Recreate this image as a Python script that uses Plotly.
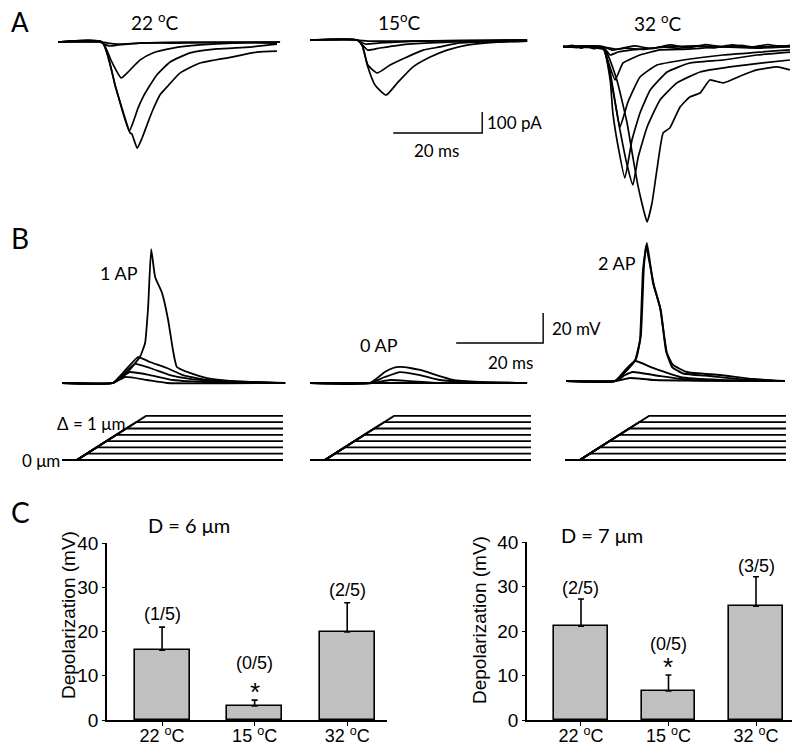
import plotly.graph_objects as go

# Page is 800x746; the html body adds an 8px margin, so the figure is offset
OFF = 8
W, H = 800 - OFF, 746 - OFF

# ======================= DATA =======================
# Panel A: evoked currents (time in ms, current in pA), one list per sweep
A22_TIME_MS = [
    [0, 9.9, 11.2, 13.5, 18.4, 30, 49.9],
    [0, 9.4, 10.3, 11.7, 13.5, 18.4, 25.8, 49.9],
    [0, 9.9, 12.1, 14.2, 15.5, 18.4, 21.3, 25.8, 31.9, 39.3, 49.2],
    [0, 9.9, 13.0, 16.0, 16.9, 18.0, 19.1, 20.7, 22.2, 25.2, 29.7, 35.7, 43.1, 49.2],
    [0, 9.9, 13.0, 16.2, 16.6, 17.8, 18.9, 20.0, 21.3, 22.9, 24.5, 27.4, 31.9, 39.3, 44.7, 49.2],
]
A22_CURRENT_PA = [
    [0, 0, -5, -10, -5, 0, 0],
    [0, 0, -10, -19, -14, -5, -5, 0],
    [0, 0, -95, -171, -148, -86, -52, -29, -14, -5, -5],
    [0, 0, -219, -424, -381, -314, -262, -205, -157, -95, -52, -33, -24, -10],
    [0, 0, -219, -433, -438, -505, -457, -395, -324, -252, -214, -148, -100, -71, -48, -43],
]
A15_TIME_MS = [
    [0, 10.6, 13.0, 20.0, 48.8],
    [0, 10.6, 12.4, 15.7, 24.7, 48.8],
    [0, 10.6, 13.0, 15.7, 20.2, 27.0, 38.2, 48.8],
    [0, 10.6, 11.7, 13.0, 15.1, 18.0, 21.8, 25.4, 29.2, 33.7, 48.8],
    [0, 10.6, 11.7, 13.0, 14.6, 17.1, 19.6, 23.1, 27.0, 30.8, 35.3, 42.0, 48.8],
]
A15_CURRENT_PA = [
    [0, 0, -5, -5, 0],
    [0, 0, -19, -14, -5, 0],
    [0, 0, -48, -38, -24, -14, -5, 0],
    [0, 0, -24, -119, -157, -119, -81, -48, -33, -14, -5],
    [0, 0, -24, -129, -214, -262, -205, -129, -81, -48, -24, -10, -5],
]
A32_TIME_MS = [
    [0, 2, 4, 6, 8, 9, 12, 16, 20, 24, 28, 32, 36, 40, 44, 48, 51],
    [0, 3, 5, 7, 9, 11, 14, 18, 22, 26, 30, 34, 38, 42, 46, 49, 51],
    [0, 9.0, 10.6, 12.4, 15.5, 20, 30, 40, 51],
    [0, 9.0, 10.0, 11.7, 13.5, 17.3, 21.8, 28, 36, 44, 51],
    [0, 9.0, 10.6, 11.7, 12.8, 14.6, 17.3, 21.1, 27.0, 36.0, 51.0],
    [0, 9.0, 10.6, 11.2, 12.4, 13.9, 15.5, 17.3, 19.6, 23.4, 28.5, 36.0, 43.6, 51.0],
    [0, 9.0, 11.2, 12.8, 14.4, 15.7, 16.9, 18.9, 21.8, 25.6, 30.8, 37.5, 44.9, 51.0],
    [0, 9.4, 12.1, 14.4, 15.7, 16.9, 18.9, 20.0, 21.1, 22.5, 24.0, 26.3, 28.5, 30.8, 33.0,
     36.0, 40.4, 43.6, 48.1, 51.0],
]
A32_CURRENT_PA = [
    [0, 8, -5, 6, -3, 0, -10, 5, -8, 10, -3, 12, 0, 8, -5, 6, 3],
    [5, -3, 6, -8, 2, -15, -5, -12, 0, -6, 4, -4, 10, -2, 12, 2, 8],
    [0, 0, -38, -24, -14, -5, 5, 0, 5],
    [0, 0, -60, -157, -76, -38, -14, -10, 0, -5, 0],
    [0, 0, -120, -260, -381, -262, -143, -86, -62, -38, -14],
    [0, -5, -157, -314, -476, -624, -443, -314, -205, -119, -76, -62, -38, -24],
    [0, -5, -205, -395, -562, -657, -524, -381, -252, -171, -119, -95, -76, -62],
    [0, -14, -157, -362, -524, -666, -833, -743, -585, -409, -386, -286, -238, -219, -157,
     -171, -133, -109, -95, -109],
]

# Panel B: membrane potential (time in ms, depolarization in mV)
B22_TIME_MS = [
    [0, 11.7, 14.9, 17.9, 19.1, 19.8, 20.5, 21.4, 23.0, 24.4, 25.5, 26.4, 29.4, 33.3, 39.3, 51.3],
    [0, 11.7, 14.0, 17.5, 20.2, 24.1, 27.8, 33.3, 51.3],
    [0, 11.7, 14.0, 16.8, 20.2, 24.8, 29.4, 40.0, 51.3],
    [0, 11.7, 14.0, 15.6, 20.2, 25.5, 35.0, 51.3],
    [0, 11.7, 14.5, 19.5, 24.1, 51.3],
]
B22_VOLT_MV = [
    [0, 0, 6.7, 17.3, 26.7, 50.7, 89.3, 70.7, 60.0, 42.0, 22.0, 10.7, 6.7, 3.3, 1.3, 0],
    [0, 0, 6.7, 17.3, 14.0, 10.0, 5.3, 2.0, 0],
    [0, 0, 5.5, 12.7, 10.0, 5.3, 2.7, 0.7, 0],
    [0, 0, 4.5, 7.3, 5.3, 2.0, 0.5, 0],
    [0, 0, 4.0, 2.0, 0, 0],
]
B15_TIME_MS = [
    [0, 13.8, 17.2, 19.1, 20.7, 23.0, 25.3, 32.9, 39.1, 49.9],
    [0, 13.8, 17.2, 20.7, 25.3, 29.9, 36.8, 49.9],
    [0, 14.3, 18.4, 23.0, 29.9, 49.9],
    [0, 49.9],
]
B15_VOLT_MV = [
    [0, 0, 7.3, 10.0, 10.7, 10.0, 8.7, 2.0, 0.7, 0],
    [0, 0, 4.0, 7.3, 5.3, 2.0, 0.7, 0],
    [0, 0, 2.0, 1.3, 0, 0],
    [0, 0],
]
B32_TIME_MS = [
    [0, 11.3, 13.6, 15.9, 17.0, 17.7, 18.6, 20.0, 21.6, 23.2, 24.6, 27.8, 35.4, 43.0, 50.3],
    [0, 11.3, 13.8, 16.1, 17.2, 17.9, 18.4, 20.2, 21.8, 23.0, 24.4, 27.0, 33.0, 42.0, 50.3],
    [0, 11.3, 13.6, 15.9, 20.0, 26.2, 35.4, 50.3],
    [0, 11.3, 13.6, 15.4, 21.6, 28.5, 50.3],
    [0, 11.5, 14.7, 20.0, 50.3],
]
B32_VOLT_MV = [
    [0, 0, 6.0, 14.0, 27.3, 74.0, 92.0, 65.3, 49.3, 18.7, 10.7, 6.0, 4.0, 1.3, 0],
    [0, 0, 6.7, 14.7, 30.0, 76.0, 90.0, 64.0, 47.0, 20.0, 9.3, 5.0, 3.3, 0.7, 0],
    [0, 0, 7.3, 13.3, 8.7, 2.7, 0.7, 0],
    [0, 0, 4.0, 6.0, 3.3, 0.7, 0],
    [0, 0, 2.0, 0.7, 0],
]
AP_LABELS = ["1 AP", "0 AP", "2 AP"]

# Mechanical stimulus: displacement steps (µm), ramp onset, ramp speed, sweep end
STEP_LEVELS_UM = [0, 1, 2, 3, 4, 5, 6, 7]
RAMP_ONSET_MS = 3.4
RAMP_SPEED_UM_PER_MS = 0.44
SWEEP_END_MS = 50.8

# Scale bars
SCALE_A_MS, SCALE_A_PA = 20, 100
SCALE_B_MS, SCALE_B_MV = 20, 20

TEMPS = ["22 <sup>o</sup>C", "15<sup>o</sup>C", "32 <sup>o</sup>C"]

# Panel C: bar charts
CATEGORIES = ["22 <sup>o</sup>C", "15 <sup>o</sup>C", "32 <sup>o</sup>C"]
D6_MEAN = [15.8, 3.2, 19.9]
D6_SEM = [5.2, 1.3, 6.6]
D6_FRACTION = ["(1/5)", "(0/5)", "(2/5)"]
D7_MEAN = [21.1, 6.5, 25.6]
D7_SEM = [6.1, 3.6, 6.6]
D7_FRACTION = ["(2/5)", "(0/5)", "(3/5)"]
SIGNIF = ["", "*", ""]
Y_TICKS = [0, 10, 20, 30, 40]

# ======================= LAYOUT HELPERS =======================
CAL = "Lato, 'Open Sans', sans-serif"
ARIAL = "'Liberation Sans', Arial, sans-serif"
fig = go.Figure()
axes = {}
counter = [0]


def dom_x(a, b):
    return [(a - OFF) / W, (b - OFF) / W]


def dom_y(top, bottom):
    return [1 - (bottom - OFF) / H, 1 - (top - OFF) / H]


def new_axes(x0, x1, top, bottom, xrange, yrange):
    counter[0] += 1
    s = "" if counter[0] == 1 else str(counter[0])
    axes["xaxis" + s] = dict(domain=dom_x(x0, x1), range=xrange, visible=False,
                             anchor="y" + s, fixedrange=True)
    axes["yaxis" + s] = dict(domain=dom_y(top, bottom), range=yrange, visible=False,
                             anchor="x" + s, fixedrange=True)
    return "x" + s, "y" + s


def trace_axes(x0, x1, base, top, bottom, xpx, ypx):
    return new_axes(x0, x1, top, bottom, [0, (x1 - x0) / xpx],
                    [-(bottom - base) / ypx, (base - top) / ypx])


def add_lines(times, vals, xa, ya, width=1.7, smooth=0.5):
    for t, v in zip(times, vals):
        fig.add_trace(go.Scatter(x=t, y=v, xaxis=xa, yaxis=ya, mode="lines",
                                 line=dict(color="black", width=width, shape="spline",
                                           smoothing=smooth),
                                 hoverinfo="skip", showlegend=False))


anns = []


def text(t, xpx, ypx, size, family=CAL, xanchor="center", angle=0):
    anns.append(dict(text=t, x=(xpx - OFF) / W, y=1 - (ypx - OFF) / H, xref="paper",
                     yref="paper", showarrow=False, xanchor=xanchor, yanchor="middle",
                     textangle=angle, borderpad=0,
                     font=dict(family=family, size=size, color="black")))


# ======================= PANEL A =======================
A_MS_PX, A_PA_PX = 4.45, 0.21
a22 = trace_axes(58, 285, 42, 25, 240, A_MS_PX, A_PA_PX)
a15 = trace_axes(310, 540, 40, 25, 240, A_MS_PX, A_PA_PX)
a32 = trace_axes(563, 795, 47, 25, 240, A_MS_PX, A_PA_PX)
add_lines(A22_TIME_MS, A22_CURRENT_PA, *a22)
add_lines(A15_TIME_MS, A15_CURRENT_PA, *a15)
add_lines(A32_TIME_MS, A32_CURRENT_PA, *a32, smooth=0.4)

# scale bar A (in 15 oC axes)
sbx0, sby0 = 18.7, -443
fig.add_trace(go.Scatter(x=[sbx0, sbx0 + SCALE_A_MS, sbx0 + SCALE_A_MS],
                         y=[sby0, sby0, sby0 + SCALE_A_PA], xaxis=a15[0], yaxis=a15[1],
                         mode="lines", line=dict(color="black", width=1.4),
                         hoverinfo="skip", showlegend=False))
text(f"{SCALE_A_PA} pA", 486, 122, 17, xanchor="left")
text(f"{SCALE_A_MS} ms", 437, 150, 17)

text("A", 10, 22, 26, xanchor="left")
text(TEMPS[0], 154, 21, 19)
text(TEMPS[1], 399, 21, 19)
text(TEMPS[2], 657, 23, 19)

# ======================= PANEL B =======================
B_MS_PX, B_MV_PX = 4.35, 1.5
b22 = trace_axes(62, 292, 383, 225, 395, B_MS_PX, B_MV_PX)
b15 = trace_axes(310, 555, 383, 225, 395, B_MS_PX, B_MV_PX)
b32 = trace_axes(566, 795, 381, 225, 395, B_MS_PX, B_MV_PX)
add_lines(B22_TIME_MS, B22_VOLT_MV, *b22, width=1.8, smooth=0.4)
add_lines(B15_TIME_MS, B15_VOLT_MV, *b15, width=1.8, smooth=0.5)
add_lines(B32_TIME_MS, B32_VOLT_MV, *b32, width=1.9, smooth=0.4)

sbx0, sby0 = 33.6, 26.7
fig.add_trace(go.Scatter(x=[sbx0, sbx0 + SCALE_B_MS, sbx0 + SCALE_B_MS],
                         y=[sby0, sby0, sby0 + SCALE_B_MV], xaxis=b15[0], yaxis=b15[1],
                         mode="lines", line=dict(color="black", width=1.4),
                         hoverinfo="skip", showlegend=False))
text(f"{SCALE_B_MV} mV", 551, 328, 17, xanchor="left")
text(f"{SCALE_B_MS} ms", 511, 362, 17)

text("B", 10, 238, 28, xanchor="left")
text(AP_LABELS[0], 119, 273, 18)
text(AP_LABELS[1], 379, 345, 18)
text(AP_LABELS[2], 617, 263, 18)

# stimulus ramps
R_MS_PX, R_UM_PX = 4.35, 6.3
for x0 in (62, 310, 565):
    ra = trace_axes(x0, x0 + 230, 460, 405, 470, R_MS_PX, R_UM_PX)
    for lvl in STEP_LEVELS_UM:
        t_top = RAMP_ONSET_MS + lvl / RAMP_SPEED_UM_PER_MS
        fig.add_trace(go.Scatter(x=[0, RAMP_ONSET_MS, t_top, SWEEP_END_MS],
                                 y=[0, 0, lvl, lvl], xaxis=ra[0], yaxis=ra[1],
                                 mode="lines", line=dict(color="black", width=1.8),
                                 hoverinfo="skip", showlegend=False))
text("Δ = 1 μm", 126, 423, 17, xanchor="right")
text("0 μm", 61, 460, 17, xanchor="right")

# ======================= PANEL C =======================
text("C", 10, 512, 28, xanchor="left")


def bar_panel(x0, x1, top, bottom, xr, width, mean, sem, frac, title, title_px,
              ytitle_px, frac_shift, star_shift):
    counter[0] += 1
    s = str(counter[0])
    axes["xaxis" + s] = dict(domain=dom_x(x0, x1), range=xr, anchor="y" + s,
                             showline=True, linecolor="black", linewidth=1.6,
                             ticks="outside", ticklen=4, tickwidth=1.4, tickcolor="black",
                             tickvals=[0, 1, 2], ticktext=CATEGORIES, showgrid=False,
                             zeroline=False, fixedrange=True, ticklabelstandoff=-5,
                             tickfont=dict(family=ARIAL, size=18, color="black"))
    axes["yaxis" + s] = dict(domain=dom_y(top, bottom), range=[0, 40], anchor="x" + s,
                             showline=True, linecolor="black", linewidth=1.6,
                             ticks="outside", ticklen=3, tickwidth=1.4, tickcolor="black",
                             tickvals=Y_TICKS, showgrid=False, zeroline=False,
                             fixedrange=True,
                             tickfont=dict(family=ARIAL, size=19, color="black"))
    fig.add_trace(go.Bar(x=[0, 1, 2], y=mean, width=width, xaxis="x" + s, yaxis="y" + s,
                         marker=dict(color="#c0c0c0", line=dict(color="black", width=1.6)),
                         error_y=dict(type="data", array=sem, arrayminus=[0, 0, 0],
                                      symmetric=False, color="black", thickness=1.6,
                                      width=3),
                         hoverinfo="skip", showlegend=False))
    for i in range(3):
        anns.append(dict(text=frac[i], x=i, y=mean[i] + sem[i], xref="x" + s, yref="y" + s,
                         showarrow=False, yanchor="middle", yshift=frac_shift[i],
                         font=dict(family=ARIAL, size=18, color="black")))
        if SIGNIF[i]:
            anns.append(dict(text=SIGNIF[i], x=i, y=mean[i] + sem[i], xref="x" + s,
                             yref="y" + s, showarrow=False, yanchor="middle",
                             yshift=star_shift,
                             font=dict(family=ARIAL, size=26, color="black")))
    text(title, title_px[0], title_px[1], 20)
    text("Depolarization (mV)", ytitle_px[0], ytitle_px[1], 19, family=ARIAL, angle=-90)


bar_panel(107, 387, 543, 720, [-0.595, 2.43], 0.595, D6_MEAN, D6_SEM, D6_FRACTION,
          "D = 6 μm", (189, 525), (68, 615), [13, 37, 13], 8)
bar_panel(527, 798, 542, 720, [-0.617, 2.48], 0.606, D7_MEAN, D7_SEM, D7_FRACTION,
          "D = 7 μm", (602, 535), (479, 620), [11, 31, 11], 8)

fig.update_layout(width=W, height=H,
                  margin=dict(l=0, r=0, t=0, b=0, pad=0, autoexpand=False),
                  paper_bgcolor="white", plot_bgcolor="white", showlegend=False,
                  annotations=anns, bargap=0, **axes)

fig.write_html("out.html")
